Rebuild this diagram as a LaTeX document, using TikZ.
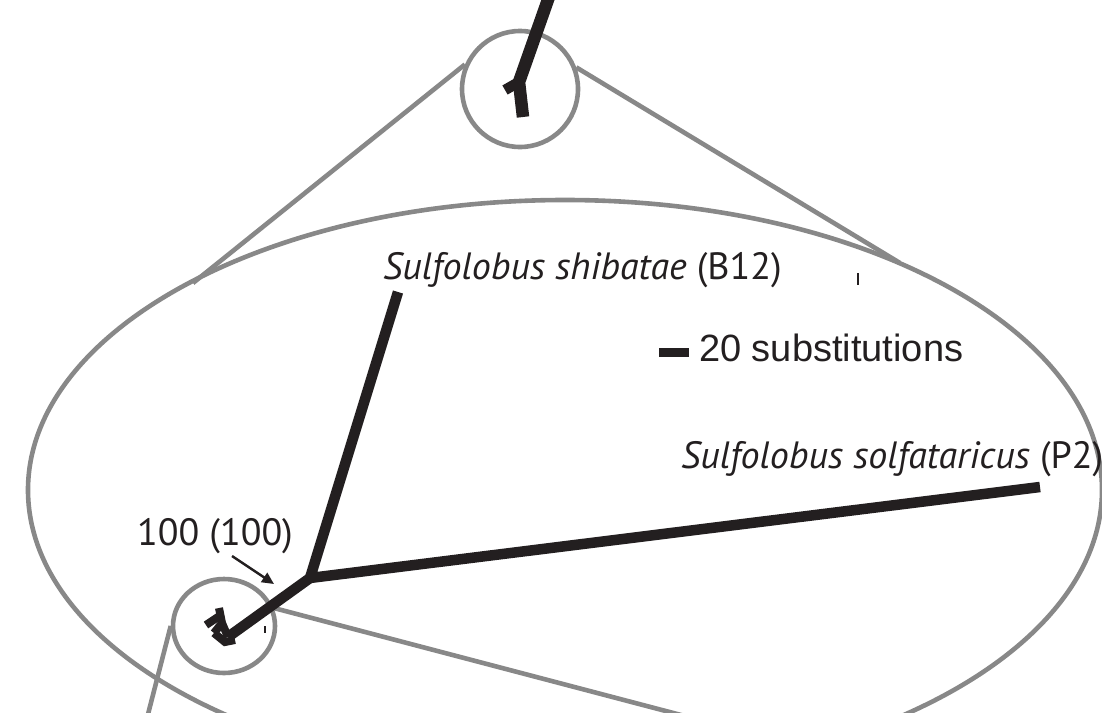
\documentclass[tikz,border=0pt]{standalone}
\usepackage{fontspec}
\setmainfont{PT Sans}
\newfontfamily\arialf{Liberation Sans}
\usetikzlibrary{arrows.meta,shapes.geometric}
\definecolor{zoomgrey}{HTML}{888888}
\definecolor{branchblack}{HTML}{231F20}
\tikzset{
  zoomline/.style={draw=zoomgrey,line width=4.6pt},
  branch/.style={draw=branchblack,line width=10.5pt},
  thickbranch/.style={draw=branchblack,line width=12.5pt},
  twig/.style={draw=branchblack,line width=8pt},
  tick/.style={draw=branchblack,line width=1.2pt},
  label/.style={inner sep=0pt,font=\fontsize{38}{42}\selectfont,text=branchblack},
}
\begin{document}
\begin{tikzpicture}[x=1pt,y=-1pt]
\clip (0,0) rectangle (1102,712);
\fill[white] (0,0) rectangle (1102,712);
% zoom shapes
\node[zoomline,ellipse,inner sep=0pt,minimum width=1074pt,minimum height=580pt] (big) at (565,490) {};
\node[zoomline,circle,inner sep=0pt,minimum size=116pt] (topc) at (520,89) {};
\node[zoomline,ellipse,inner sep=0pt,minimum width=102pt,minimum height=94pt] (botc) at (224,626) {};
\coordinate (bigL) at (193,283);
\coordinate (bigR) at (900,263);
\coordinate (outL) at (146,722);
\coordinate (outR) at (700,720);
\draw[zoomline] (topc.156) -- (bigL);
\draw[zoomline] (topc.21) -- (bigR);
\draw[zoomline] (botc.west) -- (outL);
\draw[zoomline] (botc.20) -- (outR);
% top fragment of tree
\coordinate (t0) at (550,-6);
\coordinate (t1) at (519,82);
\coordinate (t2) at (523,117);
\coordinate (t3) at (505,90);
\draw[thickbranch] (t0) -- (t1) -- (t2);
\draw[branch] (t1) -- (t3);
% main tree
\coordinate (root) at (310,578);
\coordinate (shib) at (398,292);
\coordinate (solf) at (1040,487);
\coordinate (base) at (228,637);
\draw[branch] (shib) -- (root) -- (solf);
\draw[branch] (root) -- (base);
% collapsed cluster
\coordinate (b1) at (206,625);
\coordinate (b2) at (221,615);
\coordinate (b3) at (219,608);
\coordinate (b4) at (222,623);
\coordinate (b5) at (214,633);
\coordinate (b6) at (225,642);
\coordinate (b7) at (235,640);
\draw[twig] (b1) -- (b2);
\draw[twig] (b3) -- (b4) -- (base);
\draw[twig] (b5) -- (b6) -- (b7);
\draw[twig] (b4) -- (b5);
% labels
\node[label,anchor=base west] (lshib) at (383,279) {\itshape Sulfolobus shibatae\/ \upshape(B12)};
\node[label,anchor=base west] (lsolf) at (681,468) {\itshape Sulfolobus solfataricus\/ \upshape(P2)};
\node[label,anchor=base west] (lboot) at (137,545) {100 (100)};
\coordinate (arrS) at (232,556);
\coordinate (arrE) at (274,584);
\draw[line width=2.4pt,draw=branchblack,-{Triangle[length=12pt,width=11pt]}] (arrS) -- (arrE);
% scale bar
\node[fill=branchblack,inner sep=0pt,minimum width=30pt,minimum height=9pt] (bar) at (674,352.5) {};
\node[label,anchor=base west,font=\arialf\fontsize{38}{42}\selectfont] (lscale) at (699,361) {20 substitutions};
% tiny ticks
\coordinate (k1a) at (858,273);
\coordinate (k1b) at (858,285);
\coordinate (k2a) at (265,626);
\coordinate (k2b) at (265,633);
\draw[tick] (k1a) -- (k1b);
\draw[tick] (k2a) -- (k2b);
\end{tikzpicture}
\end{document}
